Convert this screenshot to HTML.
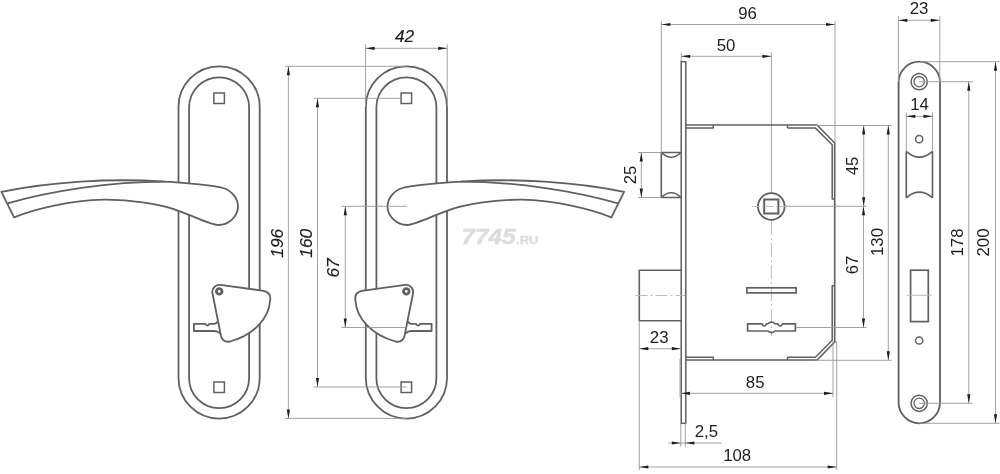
<!DOCTYPE html>
<html><head><meta charset="utf-8"><style>
html,body{margin:0;padding:0;background:#fff;width:1000px;height:474px;overflow:hidden}
svg{display:block;font-family:"Liberation Sans",sans-serif;will-change:transform}
</style></head><body>
<svg width="1000" height="474" viewBox="0 0 1000 474">
<text x="461.5" y="243.5" font-size="22.8" font-weight="bold" font-style="italic" fill="#dcdcdc" stroke="#dcdcdc" stroke-width="0.5" textLength="54" lengthAdjust="spacingAndGlyphs">7745</text><text x="516" y="243.5" font-size="10.8" font-weight="bold" fill="#dcdcdc" stroke="#dcdcdc" stroke-width="0.3" textLength="22.5" lengthAdjust="spacingAndGlyphs">.RU</text>
<g>
<g>
<rect x="178.5" y="66.3" width="81.2" height="352.3" rx="40.6" fill="none" stroke="#606060" stroke-width="1.8"/>
<rect x="189.1" y="77.3" width="60" height="330.9" rx="30" fill="none" stroke="#606060" stroke-width="1.8"/>
<rect x="213.9" y="93" width="10.5" height="10.5" fill="none" stroke="#606060" stroke-width="1.5"/>
<rect x="213.9" y="382" width="10.5" height="10.5" fill="none" stroke="#606060" stroke-width="1.5"/>
<path d="M1.4,191.9 C50,181.7 110,178 165,181.6 C185,183 210,184.5 223,188 C231,190.2 238,198 238,206.6 C238,216 229,225 218.4,225 C211,224.5 199,218.5 180,211.3 C161,204.1 130,199.5 104,199.7 C70,200.3 35,208.8 14.1,217.3 Z" fill="#fff" stroke="#606060" stroke-width="1.8" stroke-linejoin="round" />
<path d="M7.6,203.4 C50,191 110,181.6 165,181.6" fill="none" stroke="#606060" stroke-width="1.8" stroke-linejoin="round" />
<path d="M218.2,320.8 Q216.5,323.8 214.2,323.8 L209.3,323.8 Q207.4,327.5 205.5,323.8 L193.9,323.8 L193.9,331 L214.2,331 Q217.5,331 220.6,333.6" fill="none" stroke="#606060" stroke-width="1.8" stroke-linejoin="round" />
<path d="M212.7,294.5 A7.3,7.3 0 0 1 220.3,284.9 L262,290.6 Q272,292 270,301 C269,318 254,335 230,341.5 Q223,343 221,336 Z" fill="#fff" stroke="#606060" stroke-width="1.8" stroke-linejoin="round" />
<circle cx="219.2" cy="291.4" r="2.8" fill="none" stroke="#606060" stroke-width="2.8"/>
</g>
<g transform="translate(625.5,0) scale(-1,1)">
<rect x="178.5" y="66.3" width="81.2" height="352.3" rx="40.6" fill="none" stroke="#606060" stroke-width="1.8"/>
<rect x="189.1" y="77.3" width="60" height="330.9" rx="30" fill="none" stroke="#606060" stroke-width="1.8"/>
<rect x="213.9" y="93" width="10.5" height="10.5" fill="none" stroke="#606060" stroke-width="1.5"/>
<rect x="213.9" y="382" width="10.5" height="10.5" fill="none" stroke="#606060" stroke-width="1.5"/>
<path d="M1.4,191.9 C50,181.7 110,178 165,181.6 C185,183 210,184.5 223,188 C231,190.2 238,198 238,206.6 C238,216 229,225 218.4,225 C211,224.5 199,218.5 180,211.3 C161,204.1 130,199.5 104,199.7 C70,200.3 35,208.8 14.1,217.3 Z" fill="#fff" stroke="#606060" stroke-width="1.8" stroke-linejoin="round" />
<path d="M7.6,203.4 C50,191 110,181.6 165,181.6" fill="none" stroke="#606060" stroke-width="1.8" stroke-linejoin="round" />
<path d="M218.2,320.8 Q216.5,323.8 214.2,323.8 L209.3,323.8 Q207.4,327.5 205.5,323.8 L193.9,323.8 L193.9,331 L214.2,331 Q217.5,331 220.6,333.6" fill="none" stroke="#606060" stroke-width="1.8" stroke-linejoin="round" />
<path d="M212.7,294.5 A7.3,7.3 0 0 1 220.3,284.9 L262,290.6 Q272,292 270,301 C269,318 254,335 230,341.5 Q223,343 221,336 Z" fill="#fff" stroke="#606060" stroke-width="1.8" stroke-linejoin="round" />
<circle cx="219.2" cy="291.4" r="2.8" fill="none" stroke="#606060" stroke-width="2.8"/>
</g>
<line x1="285" y1="66.3" x2="406.4" y2="66.3" stroke="#999999" stroke-width="0.9" />
<line x1="285" y1="418.4" x2="406.4" y2="418.4" stroke="#999999" stroke-width="0.9" />
<line x1="314" y1="98.3" x2="401" y2="98.3" stroke="#999999" stroke-width="0.9" />
<line x1="313.3" y1="387" x2="406.7" y2="387" stroke="#999999" stroke-width="0.9" />
<line x1="341.3" y1="206.3" x2="406.7" y2="206.3" stroke="#999999" stroke-width="0.9" />
<line x1="341.3" y1="327.5" x2="406.7" y2="327.5" stroke="#999999" stroke-width="0.9" />
<line x1="288.4" y1="66.3" x2="288.4" y2="418.4" stroke="#999999" stroke-width="0.9" />
<path d="M288.40,66.30 L290.00,75.30 L286.80,75.30 Z" fill="#1e1e1e"/>
<path d="M288.40,418.40 L286.80,409.40 L290.00,409.40 Z" fill="#1e1e1e"/>
<line x1="317.5" y1="98.3" x2="317.5" y2="387" stroke="#999999" stroke-width="0.9" />
<path d="M317.50,98.30 L319.10,107.30 L315.90,107.30 Z" fill="#1e1e1e"/>
<path d="M317.50,387.00 L315.90,378.00 L319.10,378.00 Z" fill="#1e1e1e"/>
<line x1="345.3" y1="206.3" x2="345.3" y2="327.5" stroke="#999999" stroke-width="0.9" />
<path d="M345.30,206.30 L346.90,215.30 L343.70,215.30 Z" fill="#1e1e1e"/>
<path d="M345.30,327.50 L343.70,318.50 L346.90,318.50 Z" fill="#1e1e1e"/>
<text transform="translate(277,243.3) rotate(-90)" x="0" y="6.19" text-anchor="middle" font-size="17.3" font-style="italic" stroke="#1e1e1e" stroke-width="0.2" fill="#1e1e1e">196</text>
<text transform="translate(306,243.3) rotate(-90)" x="0" y="6.19" text-anchor="middle" font-size="17.3" font-style="italic" stroke="#1e1e1e" stroke-width="0.2" fill="#1e1e1e">160</text>
<text transform="translate(332.5,268) rotate(-90)" x="0" y="6.19" text-anchor="middle" font-size="17.3" font-style="italic" stroke="#1e1e1e" stroke-width="0.2" fill="#1e1e1e">67</text>
<line x1="365.6" y1="44.3" x2="365.6" y2="107" stroke="#999999" stroke-width="0.9" />
<line x1="447.2" y1="44.3" x2="447.2" y2="107" stroke="#999999" stroke-width="0.9" />
<line x1="365.6" y1="48.3" x2="447.2" y2="48.3" stroke="#999999" stroke-width="0.9" />
<path d="M365.60,48.30 L374.60,46.70 L374.60,49.90 Z" fill="#1e1e1e"/>
<path d="M447.20,48.30 L438.20,49.90 L438.20,46.70 Z" fill="#1e1e1e"/>
<text x="404.6" y="42.4" text-anchor="middle" font-size="17.3" font-style="italic" stroke="#1e1e1e" stroke-width="0.2" fill="#1e1e1e">42</text>
<line x1="661.3" y1="20.7" x2="661.3" y2="152.5" stroke="#999999" stroke-width="0.9" />
<line x1="835" y1="20.7" x2="835" y2="142" stroke="#999999" stroke-width="0.9" />
<line x1="661.3" y1="24.5" x2="835" y2="24.5" stroke="#999999" stroke-width="0.9" />
<path d="M661.30,24.50 L670.30,22.90 L670.30,26.10 Z" fill="#1e1e1e"/>
<path d="M835.00,24.50 L826.00,26.10 L826.00,22.90 Z" fill="#1e1e1e"/>
<text x="747.6" y="19" text-anchor="middle" font-size="16.8" fill="#1e1e1e">96</text>
<line x1="681.2" y1="52.5" x2="681.2" y2="61.7" stroke="#999999" stroke-width="0.9" />
<line x1="771.4" y1="52.5" x2="771.4" y2="193" stroke="#999999" stroke-width="0.9" />
<line x1="681.2" y1="56.3" x2="771.4" y2="56.3" stroke="#999999" stroke-width="0.9" />
<path d="M681.20,56.30 L690.20,54.70 L690.20,57.90 Z" fill="#1e1e1e"/>
<path d="M771.40,56.30 L762.40,57.90 L762.40,54.70 Z" fill="#1e1e1e"/>
<text x="726" y="50.5" text-anchor="middle" font-size="16.8" fill="#1e1e1e">50</text>
<rect x="681.2" y="61.7" width="4.6" height="361.6" fill="none" stroke="#606060" stroke-width="1.5"/>
<path d="M661.3,152.5 L681,152.5 M661.3,197.5 L681,197.5 M661.3,152.5 L661.3,197.5 M661.3,152.5 Q671.2,162 681,152.5 M661.3,197.5 Q671.2,188 681,197.5" fill="none" stroke="#606060" stroke-width="1.6" stroke-linejoin="round" />
<line x1="638" y1="152.5" x2="661.3" y2="152.5" stroke="#999999" stroke-width="0.9" />
<line x1="638" y1="197.5" x2="661.3" y2="197.5" stroke="#999999" stroke-width="0.9" />
<line x1="641.3" y1="152.5" x2="641.3" y2="197.5" stroke="#999999" stroke-width="0.9" />
<path d="M641.30,152.50 L642.90,161.50 L639.70,161.50 Z" fill="#1e1e1e"/>
<path d="M641.30,197.50 L639.70,188.50 L642.90,188.50 Z" fill="#1e1e1e"/>
<text transform="translate(630,175) rotate(-90)" x="0" y="6.01" text-anchor="middle" font-size="16.8" fill="#1e1e1e">25</text>
<path d="M685.8,125.0 L817,125.0 L834.7,143 L834.7,342 L817.2,360 L685.8,360" fill="none" stroke="#606060" stroke-width="1.65" stroke-linejoin="round" />
<path d="M787.5,128.1 L815.5,128.1 L832.2,144.8 L832.2,198.9 L834.7,198.9" fill="none" stroke="#606060" stroke-width="1.5" stroke-linejoin="round" />
<path d="M787.5,357.2 L815.5,357.2 L832.2,340.3 L832.2,285.8 L834.7,285.8" fill="none" stroke="#606060" stroke-width="1.5" stroke-linejoin="round" />
<path d="M685.8,128.1 L713.3,128.1 L713.3,125.0" fill="none" stroke="#606060" stroke-width="1.5" stroke-linejoin="round" />
<path d="M685.8,357.2 L713.3,357.2 L713.3,360" fill="none" stroke="#606060" stroke-width="1.5" stroke-linejoin="round" />
<path d="M787.5,128.1 L787.5,125.0" fill="none" stroke="#606060" stroke-width="1.5" stroke-linejoin="round" />
<path d="M787.5,357.2 L787.5,360" fill="none" stroke="#606060" stroke-width="1.5" stroke-linejoin="round" />
<path d="M681,270.2 L639.3,270.2 L639.3,320.8 L681,320.8" fill="none" stroke="#606060" stroke-width="1.6" stroke-linejoin="round" />
<line x1="635.5" y1="295.5" x2="685" y2="295.5" stroke="#b4b4b4" stroke-width="0.9" stroke-dasharray="12,3,2,3"/>
<circle cx="771.3" cy="206.5" r="13.3" fill="none" stroke="#606060" stroke-width="1.8"/>
<rect x="764.2" y="199.5" width="14.2" height="14" fill="none" stroke="#606060" stroke-width="2"/>
<line x1="752" y1="206.5" x2="785" y2="206.5" stroke="#b4b4b4" stroke-width="0.9" stroke-dasharray="8,2,2,2"/>
<line x1="771.4" y1="221" x2="771.4" y2="336" stroke="#b4b4b4" stroke-width="0.9" stroke-dasharray="14,3,2,3"/>
<rect x="746.9" y="287.8" width="49.2" height="5.1" fill="none" stroke="#606060" stroke-width="1.7"/>
<path d="M747.6,323.8 L762,323.8 Q764.2,328.2 766.6,323.8 L768,323.6 Q771.5,320.5 775,323.6 L777.8,323.8 Q780.2,328.2 782.6,323.8 L795.4,323.8 L795.4,331 L775,331 Q771.5,334.4 768,331 L747.6,331 Z" fill="none" stroke="#606060" stroke-width="1.7" stroke-linejoin="round" />
<line x1="815" y1="125.5" x2="891.7" y2="125.5" stroke="#999999" stroke-width="0.9" />
<line x1="785" y1="206.3" x2="866.7" y2="206.3" stroke="#999999" stroke-width="0.9" />
<line x1="795.5" y1="327.5" x2="866.7" y2="327.5" stroke="#999999" stroke-width="0.9" />
<line x1="815" y1="360.3" x2="891.7" y2="360.3" stroke="#999999" stroke-width="0.9" />
<line x1="863.7" y1="125.5" x2="863.7" y2="206.3" stroke="#999999" stroke-width="0.9" />
<path d="M863.70,125.50 L865.30,134.50 L862.10,134.50 Z" fill="#1e1e1e"/>
<path d="M863.70,206.30 L862.10,197.30 L865.30,197.30 Z" fill="#1e1e1e"/>
<line x1="863.5" y1="206.3" x2="863.5" y2="327.5" stroke="#999999" stroke-width="0.9" />
<path d="M863.50,206.30 L865.10,215.30 L861.90,215.30 Z" fill="#1e1e1e"/>
<path d="M863.50,327.50 L861.90,318.50 L865.10,318.50 Z" fill="#1e1e1e"/>
<line x1="888.3" y1="125.5" x2="888.3" y2="360.3" stroke="#999999" stroke-width="0.9" />
<path d="M888.30,125.50 L889.90,134.50 L886.70,134.50 Z" fill="#1e1e1e"/>
<path d="M888.30,360.30 L886.70,351.30 L889.90,351.30 Z" fill="#1e1e1e"/>
<text transform="translate(852,166) rotate(-90)" x="0" y="6.01" text-anchor="middle" font-size="16.8" fill="#1e1e1e">45</text>
<text transform="translate(851.5,265) rotate(-90)" x="0" y="6.01" text-anchor="middle" font-size="16.8" fill="#1e1e1e">67</text>
<text transform="translate(877,242) rotate(-90)" x="0" y="6.01" text-anchor="middle" font-size="16.8" fill="#1e1e1e">130</text>
<line x1="639.3" y1="320.8" x2="639.3" y2="470" stroke="#999999" stroke-width="0.9" />
<line x1="639.3" y1="348.7" x2="680.8" y2="348.7" stroke="#999999" stroke-width="0.9" />
<path d="M639.30,348.70 L648.30,347.10 L648.30,350.30 Z" fill="#1e1e1e"/>
<path d="M680.80,348.70 L671.80,350.30 L671.80,347.10 Z" fill="#1e1e1e"/>
<text x="659.2" y="342.5" text-anchor="middle" font-size="16.8" fill="#1e1e1e">23</text>
<line x1="680" y1="359" x2="680" y2="397" stroke="#999999" stroke-width="0.9" />
<line x1="833" y1="341" x2="833" y2="397" stroke="#999999" stroke-width="0.9" />
<line x1="681" y1="393.3" x2="833" y2="393.3" stroke="#999999" stroke-width="0.9" />
<path d="M681.00,393.30 L690.00,391.70 L690.00,394.90 Z" fill="#1e1e1e"/>
<path d="M833.00,393.30 L824.00,394.90 L824.00,391.70 Z" fill="#1e1e1e"/>
<text x="755.2" y="387.5" text-anchor="middle" font-size="16.8" fill="#1e1e1e">85</text>
<line x1="680.8" y1="423.3" x2="680.8" y2="446.7" stroke="#999999" stroke-width="0.9" />
<line x1="685.3" y1="423.3" x2="685.3" y2="446.7" stroke="#999999" stroke-width="0.9" />
<line x1="668.3" y1="443" x2="721.7" y2="443" stroke="#999999" stroke-width="0.9" />
<path d="M680.80,443.00 L671.80,444.60 L671.80,441.40 Z" fill="#1e1e1e"/>
<path d="M685.30,443.00 L694.30,441.40 L694.30,444.60 Z" fill="#1e1e1e"/>
<text x="706.4" y="436.6" text-anchor="middle" font-size="16.8" fill="#1e1e1e">2,5</text>
<line x1="836.7" y1="341" x2="836.7" y2="470" stroke="#999999" stroke-width="0.9" />
<line x1="639.3" y1="467" x2="836.7" y2="467" stroke="#999999" stroke-width="0.9" />
<path d="M639.30,467.00 L648.30,465.40 L648.30,468.60 Z" fill="#1e1e1e"/>
<path d="M836.70,467.00 L827.70,468.60 L827.70,465.40 Z" fill="#1e1e1e"/>
<text x="737.2" y="461" text-anchor="middle" font-size="16.8" fill="#1e1e1e">108</text>
<rect x="898.6" y="61.7" width="41.4" height="361.6" rx="20.7" fill="none" stroke="#606060" stroke-width="1.8"/>
<circle cx="919.2" cy="81.7" r="8.1" fill="none" stroke="#606060" stroke-width="1.5"/>
<circle cx="919.2" cy="81.7" r="5.2" fill="none" stroke="#606060" stroke-width="1.3"/>
<circle cx="919.2" cy="403.3" r="8.1" fill="none" stroke="#606060" stroke-width="1.5"/>
<circle cx="919.2" cy="403.3" r="5.2" fill="none" stroke="#606060" stroke-width="1.3"/>
<circle cx="919.2" cy="139.2" r="3.6" fill="none" stroke="#606060" stroke-width="1.5"/>
<circle cx="919.2" cy="340.5" r="3.6" fill="none" stroke="#606060" stroke-width="1.5"/>
<path d="M906.3,151.3 L906.3,197.8 M932.5,151.3 L932.5,197.8 M906.3,151.3 Q919.4,163 932.5,151.3 M906.3,197.8 Q919.4,186.5 932.5,197.8" fill="none" stroke="#606060" stroke-width="1.6" stroke-linejoin="round" />
<rect x="910.6" y="270.2" width="17.7" height="51.4" fill="none" stroke="#606060" stroke-width="1.7"/>
<line x1="906.7" y1="295.3" x2="931.7" y2="295.3" stroke="#b4b4b4" stroke-width="0.9" />
<line x1="898.4" y1="16.2" x2="898.4" y2="82" stroke="#999999" stroke-width="0.9" />
<line x1="939.8" y1="16.2" x2="939.8" y2="82" stroke="#999999" stroke-width="0.9" />
<line x1="898.4" y1="20.3" x2="939.8" y2="20.3" stroke="#999999" stroke-width="0.9" />
<path d="M898.40,20.30 L907.40,18.70 L907.40,21.90 Z" fill="#1e1e1e"/>
<path d="M939.80,20.30 L930.80,21.90 L930.80,18.70 Z" fill="#1e1e1e"/>
<text x="919" y="14" text-anchor="middle" font-size="16.8" fill="#1e1e1e">23</text>
<line x1="906.3" y1="112.5" x2="906.3" y2="151.3" stroke="#999999" stroke-width="0.9" />
<line x1="932.5" y1="112.5" x2="932.5" y2="151.3" stroke="#999999" stroke-width="0.9" />
<line x1="906.3" y1="116.3" x2="932.5" y2="116.3" stroke="#999999" stroke-width="0.9" />
<path d="M906.30,116.30 L915.30,114.70 L915.30,117.90 Z" fill="#1e1e1e"/>
<path d="M932.50,116.30 L923.50,117.90 L923.50,114.70 Z" fill="#1e1e1e"/>
<text x="919.6" y="110" text-anchor="middle" font-size="16.8" fill="#1e1e1e">14</text>
<line x1="920" y1="61.7" x2="999.5" y2="61.7" stroke="#999999" stroke-width="0.9" />
<line x1="919.2" y1="81.7" x2="972.7" y2="81.7" stroke="#999999" stroke-width="0.9" />
<line x1="919.2" y1="403.3" x2="972.7" y2="403.3" stroke="#999999" stroke-width="0.9" />
<line x1="919.2" y1="423.3" x2="999.5" y2="423.3" stroke="#999999" stroke-width="0.9" />
<line x1="968.8" y1="81.7" x2="968.8" y2="403.3" stroke="#999999" stroke-width="0.9" />
<path d="M968.80,81.70 L970.40,90.70 L967.20,90.70 Z" fill="#1e1e1e"/>
<path d="M968.80,403.30 L967.20,394.30 L970.40,394.30 Z" fill="#1e1e1e"/>
<line x1="995.5" y1="61.7" x2="995.5" y2="423.3" stroke="#999999" stroke-width="0.9" />
<path d="M995.50,61.70 L997.10,70.70 L993.90,70.70 Z" fill="#1e1e1e"/>
<path d="M995.50,423.30 L993.90,414.30 L997.10,414.30 Z" fill="#1e1e1e"/>
<text transform="translate(957,242.5) rotate(-90)" x="0" y="6.01" text-anchor="middle" font-size="16.8" fill="#1e1e1e">178</text>
<text transform="translate(983.3,242.5) rotate(-90)" x="0" y="6.01" text-anchor="middle" font-size="16.8" fill="#1e1e1e">200</text>
</g>
</svg>
</body></html>
